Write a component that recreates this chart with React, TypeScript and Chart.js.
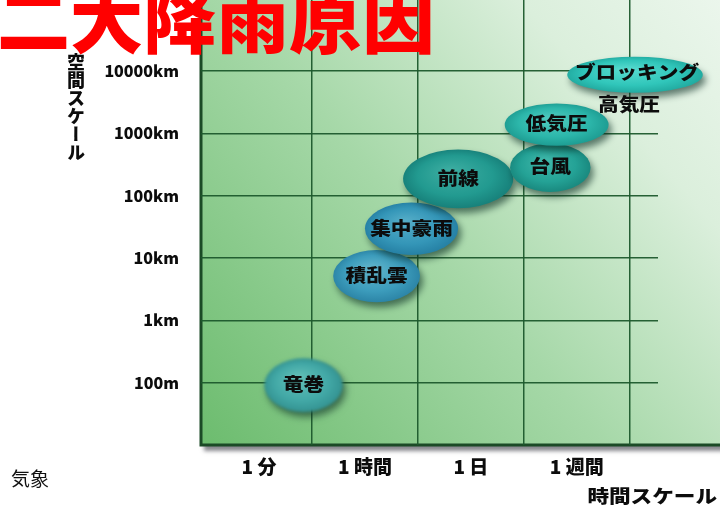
import React, { useEffect, useRef } from "react";
import { Chart, registerables } from "chart.js";

Chart.register(...registerables);

// ---- data ----
const phenomena = ["竜巻", "積乱雲", "集中豪雨", "前線", "台風", "低気圧", "ブロッキング\n高気圧"];
// time scale position (grid units: 1 = 1分|1時間 boundary ...)
const timeCenter = [0.92, 1.61, 1.94, 2.38, 3.25, 3.31, 4.05];
// space scale position (log10 of km)
const spaceCenter = [-1.04, 0.71, 1.47, 2.27, 2.45, 3.14, 3.94];
const timeSpread = [0.37, 0.41, 0.44, 0.52, 0.38, 0.49, 0.64];
const spaceSpread = [0.43, 0.42, 0.42, 0.47, 0.39, 0.34, 0.29];

const timeTickValues = [0.5, 1.5, 2.5, 3.5];
const timeTickLabels = ["1 分", "1 時間", "1 日", "1 週間"];
const timeGridValues = [1, 2, 3, 4];
const spaceTickValues = [-1, 0, 1, 2, 3, 4];
const spaceTickLabels = ["100m", "1km", "10km", "100km", "1000km", "10000km"];

const titleText = "二大降雨原因";
const yTitle = "空間スケール";
const xTitle = "時間スケール";
const footText = "気象";

// ---- styles ----
const FONT = "'Noto Sans CJK JP', 'Noto Sans', sans-serif";
const GRID = "rgba(28,88,44,0.95)";
const ELLIPSE_COLORS: [string, string, string][] = [
  ["#63c0b8", "#42a8a6", "#32908f"],
  ["#62b6cc", "#3c9cbc", "#2a82a4"],
  ["#56aec8", "#3496b8", "#247ea2"],
  ["#3eaea2", "#229a90", "#167e78"],
  ["#40b8aa", "#24a296", "#18867c"],
  ["#50ccc0", "#2cb6aa", "#1c9a90"],
  ["#5adcd0", "#30c6ba", "#20a89e"],
];

const backgroundPlugin = {
  id: "plotBackground",
  beforeDraw(chart: any) {
    const { ctx, chartArea } = chart;
    const left = chartArea.left;
    const bottom = chartArea.bottom;
    const right = chart.width;
    ctx.save();
    ctx.shadowColor = "rgba(40,40,50,0.55)";
    ctx.shadowBlur = 4;
    ctx.shadowOffsetX = 3;
    ctx.shadowOffsetY = 6;
    const g = ctx.createLinearGradient(left, bottom, right, 0);
    g.addColorStop(0, "#6cbc6e");
    g.addColorStop(0.45, "#a6d8a8");
    g.addColorStop(0.78, "#dbefdc");
    g.addColorStop(1, "#ebf6ec");
    ctx.fillStyle = g;
    ctx.fillRect(left, -10, right - left + 20, bottom + 10);
    ctx.restore();
    ctx.save();
    ctx.strokeStyle = "#1b4a26";
    ctx.lineWidth = 3;
    ctx.beginPath();
    ctx.moveTo(left, 0);
    ctx.lineTo(left, bottom);
    ctx.lineTo(right + 5, bottom);
    ctx.stroke();
    ctx.restore();
  },
};

const ellipsePlugin = {
  id: "scaleEllipses",
  afterDatasetsDraw(chart: any) {
    const { ctx } = chart;
    const xs = chart.scales.x;
    const ys = chart.scales.y;
    const data = chart.data.datasets[0].data as any[];
    data.forEach((d, i) => {
      const cx = xs.getPixelForValue(d.x);
      const cy = ys.getPixelForValue(d.y);
      const rx = Math.abs(xs.getPixelForValue(d.x + d.rx) - cx);
      const ry = Math.abs(ys.getPixelForValue(d.y + d.ry) - cy);
      const [c0, c1, c2] = ELLIPSE_COLORS[i % ELLIPSE_COLORS.length];
      ctx.save();
      ctx.shadowColor = "rgba(10,45,35,0.6)";
      ctx.shadowBlur = 7;
      ctx.shadowOffsetX = 3;
      ctx.shadowOffsetY = 5;
      if (i === 0) ctx.filter = "blur(1.5px)";
      ctx.translate(cx, cy);
      ctx.scale(rx, ry);
      ctx.beginPath();
      ctx.arc(0, 0, 1, 0, Math.PI * 2);
      const g = ctx.createRadialGradient(-0.15, -0.3, 0, 0, 0, 1.05);
      g.addColorStop(0, c0);
      g.addColorStop(0.65, c1);
      g.addColorStop(1, c2);
      ctx.fillStyle = g;
      ctx.fill();
      ctx.restore();

      const lines = String(d.label).split("\n");
      ctx.save();
      ctx.fillStyle = "#0c0c0c";
      ctx.font = `900 18px ${FONT}`;
      ctx.textAlign = "center";
      ctx.textBaseline = "middle";
      lines.forEach((line, li) => {
        const ty = li === 0 ? cy + (lines.length > 1 ? -3 : -1) : cy + 29 * li;
        const tx = li === 0 ? cx + (lines.length > 1 ? 2 : 0) : cx - 6;
        ctx.save();
        ctx.translate(tx, ty);
        ctx.scale(1.15, 1);
        ctx.fillText(line, 0, 0);
        ctx.restore();
      });
      ctx.restore();
    });
  },
};

export default function App() {
  const canvasRef = useRef<HTMLCanvasElement | null>(null);

  useEffect(() => {
    if (!canvasRef.current) return;
    const points = phenomena.map((label, i) => ({
      x: timeCenter[i],
      y: spaceCenter[i],
      rx: timeSpread[i],
      ry: spaceSpread[i],
      label,
    }));
    const chart = new Chart(canvasRef.current, {
      type: "scatter",
      data: {
        datasets: [
          {
            label: "気象現象",
            data: points as any,
            pointRadius: 0,
            pointHoverRadius: 0,
          },
        ],
      },
      options: {
        responsive: false,
        animation: false,
        devicePixelRatio: 1,
        layout: { padding: { top: 0, right: 62, bottom: 0, left: 0 } },
        plugins: {
          legend: { display: false },
          tooltip: { enabled: false },
          title: { display: false },
        },
        scales: {
          x: {
            type: "linear",
            position: "bottom",
            min: -0.048,
            max: 4.267,
            afterBuildTicks: (scale: any) => {
              scale.ticks = timeGridValues.map((v) => ({ value: v }));
            },
            afterFit: (scale: any) => {
              scale.height = 0;
              scale.paddingLeft = 0;
              scale.paddingRight = 0;
            },
            ticks: { display: false },
            grid: { color: GRID, lineWidth: 1.5, drawTicks: false },
            border: { display: false },
          },
          xl: {
            type: "linear",
            position: "bottom",
            min: -0.048,
            max: 4.267,
            afterBuildTicks: (scale: any) => {
              scale.ticks = timeTickValues.map((v) => ({ value: v }));
            },
            afterFit: (scale: any) => {
              scale.height = 60;
              scale.paddingLeft = 0;
              scale.paddingRight = 0;
            },
            ticks: {
              autoSkip: false,
              maxRotation: 0,
              padding: 10,
              color: "#0c0c0c",
              font: { family: FONT, size: 19, weight: "900" },
              callback: (_v: any, i: number) => timeTickLabels[i],
            },
            grid: { display: false, drawTicks: false },
            border: { display: false },
          },
          y: {
            type: "linear",
            min: -2,
            max: 5.14,
            afterBuildTicks: (scale: any) => {
              scale.ticks = spaceTickValues.map((v) => ({ value: v }));
            },
            afterFit: (scale: any) => {
              scale.width = 201;
              scale.paddingTop = 0;
              scale.paddingBottom = 0;
            },
            ticks: {
              autoSkip: false,
              padding: 22,
              color: "#0c0c0c",
              font: { family: FONT, size: 16, weight: "900" },
              callback: (_v: any, i: number) => spaceTickLabels[i],
            },
            grid: { color: GRID, lineWidth: 1.5, drawTicks: false },
            border: { display: false },
          },
        },
      } as any,
      plugins: [backgroundPlugin, ellipsePlugin],
    });
    return () => chart.destroy();
  }, []);

  return (
    <div
      style={{
        position: "fixed",
        left: 0,
        top: 0,
        width: 720,
        height: 505,
        overflow: "hidden",
        background: "#fff",
        fontFamily: FONT,
      }}
    >
      <canvas ref={canvasRef} width={720} height={505} style={{ position: "absolute", left: 0, top: 0 }} />
      <div
        style={{
          position: "absolute",
          left: -3,
          top: -21,
          fontSize: 73,
          lineHeight: "73px",
          fontWeight: 900,
          color: "#ff0000",
          whiteSpace: "nowrap",
        }}
      >
        {titleText}
      </div>
      <div
        style={{
          position: "absolute",
          left: 67,
          top: 53,
          writingMode: "vertical-rl",
          fontSize: 18,
          lineHeight: "18px",
          fontWeight: 900,
          color: "#0c0c0c",
        }}
      >
        {yTitle}
      </div>
      <div
        style={{
          position: "absolute",
          right: 3,
          top: 486,
          fontSize: 18,
          lineHeight: "18px",
          fontWeight: 900,
          color: "#0c0c0c",
          whiteSpace: "nowrap",
          transform: "scaleX(1.2)",
          transformOrigin: "right center",
        }}
      >
        {xTitle}
      </div>
      <div
        style={{
          position: "absolute",
          left: 11,
          top: 468,
          fontSize: 19,
          lineHeight: "19px",
          color: "#111",
          whiteSpace: "nowrap",
        }}
      >
        {footText}
      </div>
    </div>
  );
}
